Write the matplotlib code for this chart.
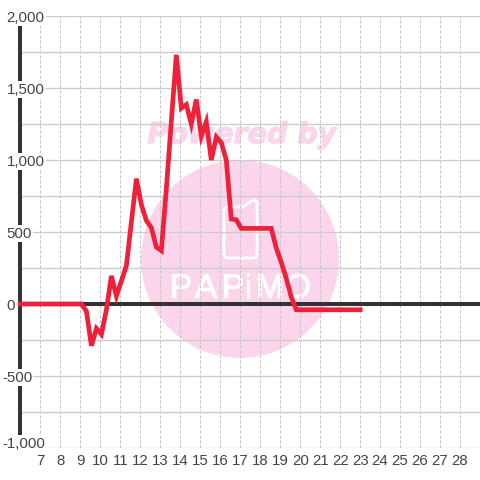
# coding=utf-8
import matplotlib
matplotlib.use('Agg')
from matplotlib import pyplot as plt
from matplotlib import patheffects
from matplotlib.patches import Circle, PathPatch
from matplotlib.path import Path
from matplotlib.transforms import IdentityTransform

plt.rcParams['font.family'] = ['Liberation Sans', 'DejaVu Sans']

# hours / values
hours = [6, 7, 8, 9.05, 9.3, 9.55, 9.8, 10.05, 10.3, 10.55, 10.8, 11.05, 11.3, 11.55, 11.8,
         12.05, 12.3, 12.55, 12.8, 13.05, 13.3, 13.55, 13.8, 14.05, 14.3, 14.55, 14.8, 15.05,
         15.3, 15.55, 15.8, 16.05, 16.3, 16.55, 16.8, 17.05, 17.5, 18, 18.55, 18.8, 19.05,
         19.3, 19.55, 19.8, 20, 21, 22, 23]
values = [0, 0, 0, 0, -50, -290, -170, -210, -40, 195, 55, 160, 265, 570, 870,
          690, 580, 530, 395, 370, 800, 1270, 1730, 1360, 1385, 1250, 1420, 1165,
          1265, 1000, 1160, 1120, 1000, 590, 585, 525, 525, 525, 525, 390, 290,
          180, 50, -40, -40, -40, -40, -40]
hour_ticks = list(range(7, 29))
value_ticks = [2000, 1500, 1000, 500, 0, -500, -1000]
value_labels = ['2,000', '1,500', '1,000', '500', '0', '-500', '-1,000']
minor_ticks = [1750, 1250, 750, 250, -250, -750]
watermark_letters = ['P', 'A', 'P', 'i', 'M', 'O']
letter_x = [181, 206, 233, 248, 270, 298]

W = 480
H = 480
GRID = '#cccccc'
DARK = '#333333'
PINK = '#fbd5ec'
RED = '#ef2039'


def px(x, y):
    # picture pixels (top left origin) to figure pixels
    return x, H - y


fig = plt.figure(figsize=(W / 100, H / 100), dpi=100, facecolor='white')
ax = fig.add_axes([20.5 / W, (H - 448) / H, (W - 20.5) / W, 432 / H])
ax.patch.set_visible(False)
ax.set_xlim(6, 29)
ax.set_ylim(-1000, 2000)
for s in ax.spines.values():
    s.set_visible(False)
ax.set_xticks([])
ax.set_yticks([])

# watermark, sits under the grid
tr = IdentityTransform()
ax.add_patch(Circle(px(240, 259), 99, transform=tr, facecolor=PINK, edgecolor='none', zorder=0, clip_on=False))
powered = ax.text(242, H - 135, 'Powered by', transform=tr, ha='center', va='center', color=PINK,
                  family='DejaVu Sans', fontweight='bold', fontstyle='italic', fontsize=20.5, zorder=0)
powered.set_path_effects([patheffects.withStroke(linewidth=1, foreground=PINK)])

phone_pts = [px(224, 211), px(224, 207), px(228, 207), px(243, 207), px(251, 201), px(254, 199), px(257, 202),
             px(257, 254), px(257, 258), px(253, 258), px(228, 258), px(224, 258), px(224, 254), px(224, 211)]
phone_codes = [Path.MOVETO, Path.CURVE3, Path.CURVE3, Path.LINETO, Path.LINETO, Path.CURVE3, Path.CURVE3,
               Path.LINETO, Path.CURVE3, Path.CURVE3, Path.LINETO, Path.CURVE3, Path.CURVE3, Path.LINETO]
ax.add_patch(PathPatch(Path(phone_pts, phone_codes), transform=tr, facecolor='none', edgecolor='white', lw=2,
                       zorder=0.5, clip_on=False))
for c, x in zip(watermark_letters, letter_x):
    t = ax.text(x, H - 289, c, transform=tr, ha='center', va='center', color='white',
                fontsize=24, zorder=0.5)
    t.set_path_effects([patheffects.withStroke(linewidth=0.8, foreground='white')])

# grid
ax.vlines(hour_ticks, -1000, 2000, colors='#c4c4c4', linewidth=0.75, linestyles=(0, (2.9, 1.9)), zorder=1)
ax.hlines(value_ticks + minor_ticks, 6, 29, colors=GRID, linewidth=0.95, zorder=1)

# axes lines
ax.axvline(6, color=DARK, linewidth=2.9, zorder=2, clip_on=False)
ax.axhline(0, color=DARK, linewidth=2.9, zorder=2)

ax.plot(hours, values, color=RED, linewidth=3.4, solid_joinstyle='miter', solid_capstyle='projecting',
        zorder=4, clip_on=False)

# labels have a white box which cuts the axis line and the grid
for v, lab in zip(value_ticks, value_labels):
    left = 2 if v < 0 else 6.5
    y = 442 if v == -1000 else 304 - v * 0.144
    ax.text(left, H - y, lab, transform=tr, ha='left', va='center_baseline',
            fontsize=10.8, color='#444444', zorder=3, clip_on=False,
            bbox=dict(facecolor='white', edgecolor='none', pad=0.8))

for h in hour_ticks:
    ax.annotate(str(h), (h, -1000), xytext=(0, -13), textcoords='offset pixels', ha='center', va='center',
                fontsize=10.8, color='#444444', annotation_clip=False)

fig.savefig('out.png', dpi=100)
